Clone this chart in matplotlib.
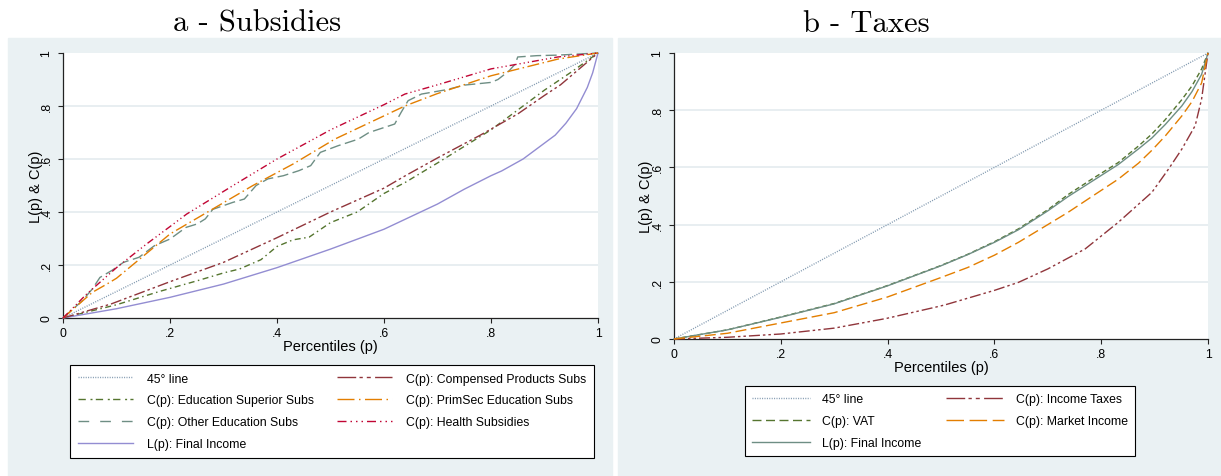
import matplotlib
matplotlib.use('Agg')
import matplotlib.pyplot as plt
from matplotlib.lines import Line2D
from matplotlib.patches import Rectangle

plt.rcParams['font.family'] = ['Liberation Sans', 'DejaVu Sans']

# ---------------- data: panel a (Subsidies) ----------------
diag_p = [0, 1]
diag_v = [0, 1]

final_a_p = [0, 0.1, 0.2, 0.3, 0.4, 0.5, 0.6, 0.7, 0.75, 0.8, 0.82, 0.86, 0.88, 0.9, 0.92, 0.94, 0.96, 0.97, 0.98, 0.99, 1.0]
final_a_v = [0, 0.035, 0.078, 0.128, 0.19, 0.26, 0.335, 0.43, 0.486, 0.537, 0.555, 0.60, 0.63, 0.66, 0.69, 0.735, 0.79, 0.83, 0.87, 0.925, 1.0]

comp_p = [0, 0.09, 0.2, 0.3, 0.4, 0.5, 0.6, 0.64, 0.7, 0.78, 0.85, 0.9, 0.93, 1.0]
comp_v = [0, 0.053, 0.137, 0.21, 0.303, 0.40, 0.49, 0.537, 0.604, 0.69, 0.77, 0.84, 0.88, 1.0]

edusup_p = [0, 0.056, 0.1, 0.18, 0.25, 0.3, 0.33, 0.37, 0.4, 0.43, 0.46, 0.5, 0.55, 0.6, 0.64, 0.7, 0.8, 0.84, 0.9, 0.95, 1.0]
edusup_v = [0, 0.028, 0.05, 0.10, 0.14, 0.17, 0.185, 0.22, 0.27, 0.295, 0.305, 0.36, 0.40, 0.47, 0.512, 0.585, 0.71, 0.77, 0.86, 0.928, 1.0]

othedu_p = [0, 0.036, 0.055, 0.069, 0.091, 0.113, 0.142, 0.171, 0.2, 0.23, 0.251, 0.266, 0.28, 0.317,
            0.339, 0.361, 0.383, 0.412, 0.441, 0.463, 0.481, 0.514, 0.552, 0.572, 0.62, 0.632, 0.645,
            0.67, 0.718, 0.751, 0.80, 0.813, 0.834, 0.845, 0.85, 0.886, 0.925, 1.0]
othedu_v = [0, 0.065, 0.11, 0.153, 0.179, 0.21, 0.229, 0.273, 0.298, 0.342, 0.355, 0.374, 0.41, 0.436,
            0.449, 0.50, 0.525, 0.537, 0.556, 0.575, 0.625, 0.65, 0.675, 0.70, 0.732, 0.776, 0.82,
            0.845, 0.862, 0.879, 0.889, 0.90, 0.933, 0.958, 0.985, 0.99, 0.992, 1.0]

primsec_p = [0, 0.055, 0.082, 0.1, 0.2, 0.3, 0.355, 0.43, 0.508, 0.639, 0.7, 0.8, 0.925, 1.0]
primsec_v = [0, 0.097, 0.128, 0.15, 0.317, 0.435, 0.50, 0.581, 0.675, 0.80, 0.847, 0.914, 0.977, 1.0]

health_p = [0, 0.044, 0.1, 0.156, 0.2, 0.231, 0.318, 0.4, 0.5, 0.6, 0.639, 0.7, 0.8, 0.925, 1.0]
health_v = [0, 0.09, 0.19, 0.279, 0.345, 0.392, 0.50, 0.60, 0.71, 0.805, 0.845, 0.88, 0.94, 0.985, 1.0]

# ---------------- data: panel b (Taxes) ----------------
final_b_p = [0, 0.1, 0.2, 0.3, 0.4, 0.5, 0.55, 0.6, 0.645, 0.7, 0.738, 0.78, 0.832, 0.87, 0.895, 0.92, 0.951, 0.97, 0.988, 1.0]
final_b_v = [0, 0.032, 0.076, 0.123, 0.186, 0.256, 0.295, 0.338, 0.382, 0.448, 0.498, 0.548, 0.61, 0.665, 0.703, 0.75, 0.815, 0.865, 0.925, 1.0]

vat_p = [0, 0.1, 0.2, 0.3, 0.4, 0.5, 0.55, 0.6, 0.645, 0.7, 0.738, 0.78, 0.832, 0.87, 0.895, 0.92, 0.951, 0.97, 0.988, 1.0]
vat_v = [0, 0.032, 0.077, 0.124, 0.187, 0.257, 0.296, 0.34, 0.385, 0.452, 0.505, 0.556, 0.617, 0.675, 0.717, 0.767, 0.837, 0.885, 0.944, 1.0]

market_p = [0, 0.1, 0.2, 0.3, 0.4, 0.5, 0.55, 0.6, 0.645, 0.7, 0.738, 0.78, 0.832, 0.87, 0.895, 0.92, 0.951, 0.97, 0.988, 1.0]
market_v = [0, 0.02, 0.056, 0.092, 0.147, 0.215, 0.25, 0.293, 0.338, 0.40, 0.443, 0.495, 0.559, 0.615, 0.66, 0.71, 0.78, 0.83, 0.895, 1.0]

inctax_p = [0, 0.1, 0.2, 0.3, 0.398, 0.489, 0.507, 0.6, 0.645, 0.70, 0.77, 0.832, 0.895, 0.926, 0.951, 0.976, 0.988, 0.994, 1.0]
inctax_v = [0, 0.006, 0.0175, 0.038, 0.072, 0.111, 0.119, 0.17, 0.198, 0.245, 0.315, 0.408, 0.513, 0.594, 0.664, 0.746, 0.839, 0.92, 1.0]

tick_vals = [0, 0.2, 0.4, 0.6, 0.8, 1.0]
tick_labels = ['0', '.2', '.4', '.6', '.8', '1']

# ---------------- styles ----------------
C_DIAG = '#7f97ae'
C_MAROON = '#90353B'
C_GREEN = '#55752F'
C_ORANGE = '#E37E00'
C_TEAL = '#6E8E84'
C_CRAN = '#C10534'
C_LAV = '#938DD2'
BG = '#EAF1F3'
GRID = '#E2EAED'

PX = 1 / 1.389  # px -> pt (lw = 1)


def d(*seq):
    return (0, tuple(v * PX for v in seq))


LW = 1.0
W, H = 1221, 477
fig = plt.figure(figsize=(W / 100, H / 100), dpi=100)
fig.patch.set_facecolor('white')
fig.patches.append(Rectangle((8 / W, 0), (612 - 8) / W, (477 - 39) / H,
                             transform=fig.transFigure, color=BG, zorder=-10))
fig.patches.append(Rectangle((618 / W, 0), (1221 - 618) / W, (477 - 39) / H,
                             transform=fig.transFigure, color=BG, zorder=-10))

axL = fig.add_axes([63 / W, 1 - 319 / H, 535 / W, 265 / H])
axR = fig.add_axes([674 / W, 1 - 340 / H, 534 / W, 286 / H])


def style(ax, ylab_x, xlab_y):
    ax.set_facecolor('white')
    ax.set_xlim(0, 1)
    ax.set_ylim(0, 1)
    for s in ['top', 'right']:
        ax.spines[s].set_visible(False)
    for s in ['left', 'bottom']:
        ax.spines[s].set_color('#222222')
        ax.spines[s].set_linewidth(0.9)
    ax.set_xticks(tick_vals)
    ax.set_xticklabels(tick_labels)
    ax.set_yticks(tick_vals)
    ax.set_yticklabels(tick_labels, rotation=90, va='center')
    ax.tick_params(axis='both', direction='out', length=3.6, width=0.8, color='#222222',
                   labelsize=8.8, labelcolor='black')
    ax.tick_params(axis='x', pad=2.8)
    ax.tick_params(axis='y', pad=4.0)
    ax.yaxis.grid(True, color=GRID, linewidth=1.1)
    gl = ax.get_ygridlines()
    gl[0].set_visible(False)
    gl[-1].set_visible(False)
    ax.set_axisbelow(True)
    ax.set_ylabel('L(p) & C(p)', fontsize=10.5)
    ax.yaxis.set_label_coords(ylab_x, 0.5)
    ax.set_xlabel('Percentiles (p)', fontsize=10.5, va='top')
    ax.xaxis.set_label_coords(0.5, xlab_y)


style(axL, (43 - 63) / 535, (319 - 340) / 265)
style(axR, (653 - 674) / 534, (340 - 361) / 286)

# ---------------- series definitions ----------------
series_a = [
    ('45° line', diag_p, diag_v, C_DIAG, d(1, 1.4), d(1, 1.4)),
    ('C(p): Education Superior Subs', edusup_p, edusup_v, C_GREEN, d(6, 3.5, 1.5, 3.5), d(7.3, 4.7, 2, 3.3)),
    ('C(p): Other Education Subs', othedu_p, othedu_v, C_TEAL, d(11, 4.5), d(10.7, 11)),
    ('L(p): Final Income', final_a_p, final_a_v, C_LAV, 'solid', 'solid'),
    ('C(p): Compensed Products Subs', comp_p, comp_v, C_MAROON, d(11, 3, 2.5, 3, 2.5, 3), d(18.7, 3.3, 3.3, 4, 4, 4.3)),
    ('C(p): PrimSec Education Subs', primsec_p, primsec_v, C_ORANGE, d(12, 3.5, 1.5, 3.5), d(17, 4.5, 1.5, 4.5)),
    ('C(p): Health Subsidies', health_p, health_v, C_CRAN, d(7, 3, 1.2, 3, 1.2, 3, 1.2, 3), d(9, 4, 1.5, 4, 1.5, 4, 1.5, 4)),
]

series_b = [
    ('45° line', diag_p, diag_v, C_DIAG, d(1, 1.4), d(1, 1.4)),
    ('C(p): VAT', vat_p, vat_v, C_GREEN, d(5, 3), d(9, 4.5)),
    ('L(p): Final Income', final_b_p, final_b_v, C_TEAL, 'solid', 'solid'),
    ('C(p): Income Taxes', inctax_p, inctax_v, C_MAROON, d(11, 3, 2.5, 3, 2.5, 3), d(18.7, 3.3, 3.3, 4, 4, 4.3)),
    ('C(p): Market Income', market_p, market_v, C_ORANGE, d(11, 4.5), d(17.5, 5.6)),
]


def draw(ax, series):
    handles = []
    for lab, p, v, col, ls, lls in series:
        ax.plot(p, v, color=col, linestyle=ls, linewidth=LW, clip_on=False, zorder=3)
        handles.append(Line2D([], [], color=col, linestyle=lls, linewidth=LW, label=lab))
    return handles


hL = draw(axL, series_a)
hR = draw(axR, series_b)

legL = fig.legend(handles=hL, loc='upper left', bbox_to_anchor=(70 / W, 1 - 366 / H), ncol=2,
                  fontsize=8.8, frameon=True, fancybox=False, framealpha=1, edgecolor='black',
                  borderpad=0.62, handlelength=4.5, handletextpad=1.15, columnspacing=1.9,
                  labelspacing=0.81, borderaxespad=0)
legL.get_frame().set_linewidth(0.8)

legR = fig.legend(handles=hR, loc='upper left', bbox_to_anchor=(745 / W, 1 - 387 / H), ncol=2,
                  fontsize=8.8, frameon=True, fancybox=False, framealpha=1, edgecolor='black',
                  borderpad=0.58, handlelength=4.75, handletextpad=1.0, columnspacing=2.0,
                  labelspacing=0.81, borderaxespad=0)
legR.get_frame().set_linewidth(0.8)

# titles
fig.text(257 / W, 1 - 32 / H, 'a - Subsidies', ha='center', va='baseline', fontsize=22,
         family=['cmr10', 'DejaVu Serif'])
fig.text(866 / W, 1 - 32 / H, 'b - Taxes', ha='center', va='baseline', fontsize=22,
         family=['cmr10', 'DejaVu Serif'])

fig.savefig('out.png', dpi=100, facecolor='white')
